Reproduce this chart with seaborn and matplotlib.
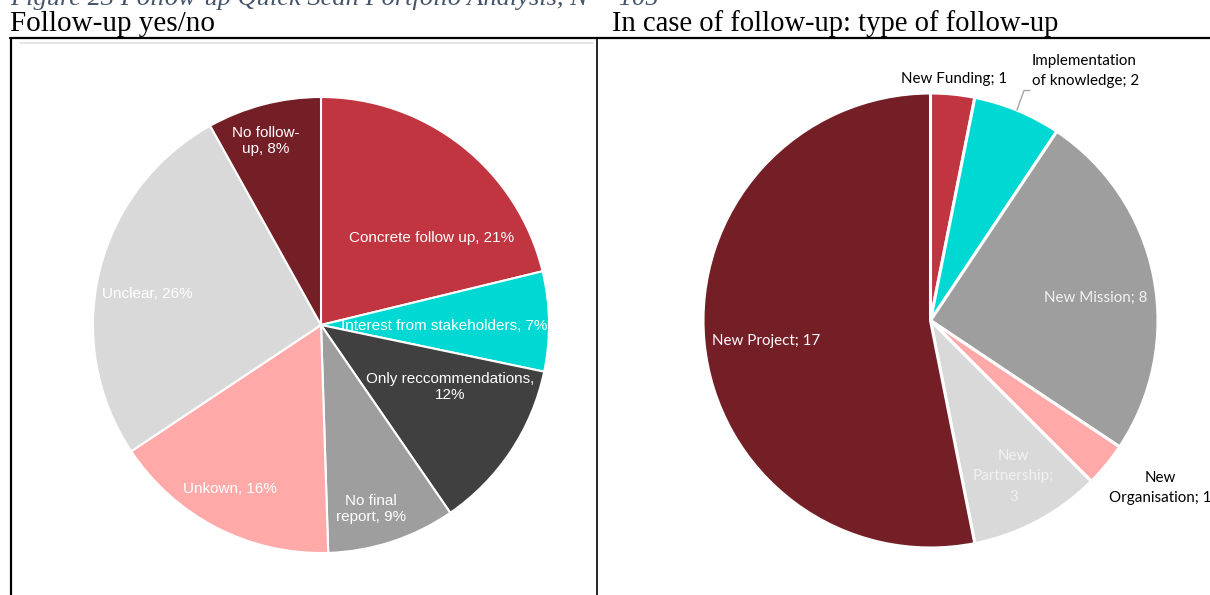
import matplotlib
matplotlib.use("Agg")
import matplotlib.pyplot as plt
from matplotlib.lines import Line2D
import seaborn as sns

sns.set_theme(style="white")
plt.rcParams["font.family"] = ["Liberation Sans", "DejaVu Sans"]

# Follow-up yes/no: share of projects (%)
status_labels = ["Concrete follow up", "Interest from stakeholders", "Only reccommendations",
                 "No final\nreport", "Unkown", "Unclear", "No follow-\nup"]
status_share = [21, 7, 12, 9, 16, 26, 8]
status_sep = [", ", ", ", ",\n", ", ", ", ", ", ", ", "]
status_colors = ["#C0353F", "#00D8D4", "#404040", "#9E9E9E", "#FFA9A9", "#D9D9D9", "#741E25"]

# Type of follow-up: number of projects
type_labels = ["New Funding", "Implementation\nof knowledge", "New Mission",
               "New\nOrganisation", "New\nPartnership", "New Project"]
type_counts = [1, 2, 8, 1, 3, 17]
type_sep = ["; ", "; ", "; ", "; ", ";\n", "; "]
type_colors = ["#C0353F", "#00D8D4", "#9E9E9E", "#FFA9A9", "#D9D9D9", "#741E25"]

# label placement inside/around each pie (unit-radius coordinates)
status_pos = [(0.487, 0.382), (0.539, -0.004), (0.566, -0.272), (0.219, -0.807),
              (-0.399, -0.719), (-0.763, 0.136), (-0.241, 0.807)]
status_txt_col = ["white"] * 7
type_pos = [(0.105, 1.061), (0.446, 1.097), (0.724, 0.101), (1.009, -0.737),
            (0.364, -0.684), (-0.724, -0.092)]
type_ha = ["center", "left", "center", "center", "center", "center"]
type_txt_col = ["black", "black", "#F2F2F2", "black", "#F2F2F2", "white"]

W, H = 1210, 595
fig = plt.figure(figsize=(W / 100, H / 100), dpi=100)
fig.patch.set_facecolor("white")


def axes_at(cx, cy, r):
    return fig.add_axes([(cx - r) / W, 1 - (cy + r) / H, 2 * r / W, 2 * r / H])


def fx(px):
    return px / W


def fy(py):
    return 1 - py / H


# left pie
ax1 = axes_at(321, 325, 228)
ax1.pie(status_share, colors=status_colors, startangle=90, counterclock=False,
        radius=1, wedgeprops=dict(edgecolor="white", linewidth=1.5))
ax1.set_xlim(-1, 1)
ax1.set_ylim(-1, 1)
ax1.axis("off")
for lab, v, sep, (x, y), c in zip(status_labels, status_share, status_sep, status_pos, status_txt_col):
    ax1.text(x, y, f"{lab}{sep}{v}%", ha="center", va="center", color=c,
             fontsize=11, linespacing=1.2, family=["Liberation Sans", "DejaVu Sans"])

# right pie
ax2 = axes_at(930.5, 320.5, 227.5)
ax2.pie(type_counts, colors=type_colors, startangle=90, counterclock=False,
        radius=1, wedgeprops=dict(edgecolor="white", linewidth=2.2))
ax2.set_xlim(-1, 1)
ax2.set_ylim(-1, 1)
ax2.axis("off")
for lab, v, sep, (x, y), ha, c in zip(type_labels, type_counts, type_sep, type_pos, type_ha, type_txt_col):
    ax2.text(x, y, f"{lab}{sep}{v}", ha=ha, va="center", color=c,
             fontsize=10.9, linespacing=1.6, family=["Lato", "DejaVu Sans"], clip_on=False)
# leader line for the small cyan slice
ax2.plot([0.380, 0.411, 0.437], [0.925, 1.011, 1.011], color="#A6A6A6", lw=1.0, clip_on=False)

# caption and panel titles
fig.text(fx(10), fy(5), "Figure 23 Follow-up Quick Scan Portfolio Analysis, N = 105",
         ha="left", va="baseline", fontsize=19, style="italic", color="#44546A",
         family=["Liberation Serif", "DejaVu Serif"])
fig.text(fx(10), fy(31), "Follow-up yes/no", ha="left", va="baseline", fontsize=21,
         color="black", family=["Liberation Serif", "DejaVu Serif"])
fig.text(fx(612), fy(31), "In case of follow-up: type of follow-up", ha="left", va="baseline",
         fontsize=20.6, color="black", family=["Liberation Serif", "DejaVu Serif"])

# frame lines around the panels
fig.add_artist(Line2D([fx(10), fx(1210)], [fy(38), fy(38)], color="black", lw=1.6))
fig.add_artist(Line2D([fx(11), fx(11)], [fy(38), fy(595)], color="black", lw=1.6))
fig.add_artist(Line2D([fx(597), fx(597)], [fy(38), fy(595)], color="black", lw=1.2))
fig.add_artist(Line2D([fx(20), fx(593)], [fy(43), fy(43)], color="#E2E2E2", lw=1.2))

fig.savefig("out.png", dpi=100, facecolor="white")
